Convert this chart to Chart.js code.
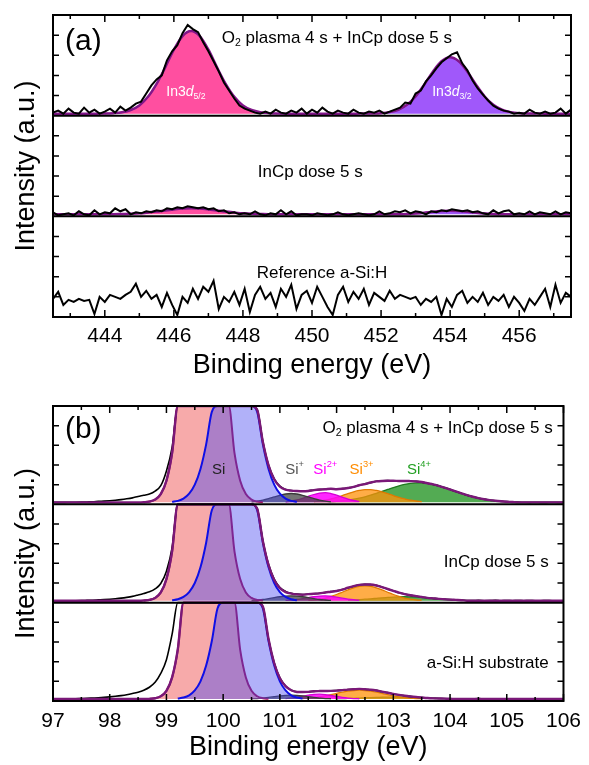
<!DOCTYPE html>
<html lang="en">
<head>
<meta charset="UTF-8">
<title>XPS In 3d and Si 2p spectra</title>
<script src="https://cdn.jsdelivr.net/npm/chart.js"></script>
<style>
body { margin: 0; background: #fff; }
.wrap { position: relative; width: 589px; height: 765px; }
canvas { position: absolute; left: 0; }
#chartA { top: 0; }
#chartB { top: 385px; }
</style>
</head>
<body>
<div class="wrap">
<canvas id="chartA" width="589" height="385"></canvas>
<canvas id="chartB" width="589" height="380"></canvas>
</div>
<script>
// ---------- panel (a): In 3d ----------
const inStart = 442.5, inStep = 0.15;      // measured points
const inFitStart = 442.5, inFitStep = 0.25; // fit curves
const inBase = 2;
const inTicks = [444, 446, 448, 450, 452, 454, 456];
const inMinor = [443, 445, 447, 449, 451, 453, 455, 457];

const inDataO2 = [3,5,2,7,3,2,8,3,6,2, 4,7,3,9,5,8,12,14,22,30, 36,40,55,64,70,82,90,86,83,73,
  64,54,44,33,25,17,10,7,5,3, 2,4,2,6,3,2,5,3,7,2, 6,3,8,4,2,5,3,2,6,3, 2,4,3,5,2,4,6,8,13,12,
  22,25,34,40,47,53,57,61,63,52, 45,35,27,21,15,10,7,5,4,2, 3,2,6,3,2,4,2,3,7,2,6];
const inDataDose = [4,1,2,3,1,5,2,1,6,2, 4,3,8,5,7,2,4,3,5,4, 6,5,8,7,9,8,10,9,8,9,
  7,8,5,6,3,4,2,3,2,5, 2,1,3,2,6,2,5,1,2,2, 1,3,2,1,2,4,2,1,2,3, 2,1,2,5,2,3,5,4,6,3,
  5,4,2,5,4,6,5,7,6,5, 6,4,5,3,2,6,3,5,6,2, 3,2,5,2,4,3,2,5,2,4,3];
const inDataRef = [18,25,12,17,15,18,16,17,3,20, 15,22,20,18,22,25,33,20,26,18, 22,10,24,12,2,20,14,28,18,30,
  25,36,8,20,15,25,12,28,5,22, 30,18,24,10,28,20,32,8,22,26, 14,30,20,10,2,22,30,15,25,18,
  28,12,24,20,16,26,18,22,20,18, 20,12,18,15,20,2,18,10,22,26, 14,20,15,24,12,20,16,22,10,20,
  14,6,18,12,20,28,10,32,14,24,20];

const inFitO2 = [2,2,2,2,2,2,
  2.1,2.5,3.4,5.6,10.2,18.7,31.6,48,65.5,79,84,79,65.5,48,31.6,18.7,10.2,5.6,3.4,2.5,2.1,
  2,2,2,2,2,2,2,2,2,
  2.1,2.2,2.5,3.5,5.9,10.8,19.1,30.8,43.7,54,58,54,43.7,30.8,19.1,10.8,5.9,3.5,2.5,2.2,2.1,
  2,2,2,2];
const inFitDose = [2,2,2,2,2,2,
  2,2.1,2.3,2.5,3,3.8,4.7,5.9,6.9,7.7,8,7.7,6.9,5.9,4.7,3.8,3,2.5,2.3,2.1,2,
  2,2,2,2,2,2,2,2,2,
  2,2,2,2.05,2.15,2.4,2.9,3.6,4.5,5.2,5.5,5.2,4.5,3.6,2.9,2.4,2.15,2.05,2,2,2,
  2,2,2,2];
const in52Start = 444.0, in32Start = 451.5;
const in52O2 = [0.1,0.5,1.4,3.6,8.2,16.7,29.6,46,63.5,77,82,77,63.5,46,29.6,16.7,8.2,3.6,1.4,0.5,0.1];
const in32O2 = [0.05,0.2,0.5,1.5,3.9,8.8,17.1,28.8,41.7,52,56,52,41.7,28.8,17.1,8.8,3.9,1.5,0.5,0.2,0.05];
const in52Dose = [0,0.1,0.3,0.5,1,1.8,2.7,3.9,4.9,5.7,6,5.7,4.9,3.9,2.7,1.8,1,0.5,0.3,0.1,0];
const in32Dose = [0,0,0,0.05,0.15,0.4,0.9,1.6,2.5,3.2,3.5,3.2,2.5,1.6,0.9,0.4,0.15,0.05,0,0,0];

// ---------- panel (b): Si 2p ----------
const siStart = 97, siStep = 0.1;
const siBase = 2;
const siTicks = [97, 98, 99, 100, 101, 102, 103, 104, 105, 106];
const siMinor = [97.5, 98.5, 99.5, 100.5, 101.5, 102.5, 103.5, 104.5, 105.5];

const siDataO2 = [2,2,2,2.1,2.1,2.2,2.4,2.6,3,3.3,3.7,4.2,4.8,5.6,6.6,8,
  9.2,10.5,13.5,19,34,58,105,180,272,364, 430,455,437,391,340,292,252,214,175,134,
  96.5,64,40,26,18.5,15,14,13.6,13.4,13.8, 14.5,15,15.4,15.7,15.5,16,16.8,17.7,19.5,20.8,
  22,23.4,23.9,24.2,23.9,24,23.7,23.5,23.4,22.6, 21.5,20.2,18.9,17,15.2,13,11.3,9.2,7.8,6.2,
  5.3,4.2,3.7,3,2.8,2.4, 2.2,2.1,2,2.1,2,2,2.1,2,2];
const siFitO2 = [2,2,2,2,2,2,2,2,2,2,2,2,2,2,2,2,
  2.2,2.8,4.8,10.4,24,52.5,103.5,179,271,363, 429,454,437,391,340,292,252,214,175,134,
  96,63.4,39.7,25.5,18,14.9,13.9,13.5,13.3,13.6, 14.5,15.1,15.3,15.8,15.4,15.8,16.6,17.8,19.4,20.6,
  22.2,23.3,23.8,24,24,23.8,23.8,23.6,23.3,22.7, 21.4,20.3,18.8,17.1,15.1,13.1,11.2,9.3,7.7,6.3,
  5.2,4.3,3.6,3.1,2.7,2.4, 2,2,2,2,2,2,2,2,2];
const siDataDose = [2,2,2,2,2,2.1,2.3,2.5,2.8,3.1,3.5,4,4.6,5.4,6.4,7.8,
  9.3,11,14,19.5,32,56,104,180,271,363, 430,455,437,391,340,292,252,214,175,134,
  96,63,39,24,15.5,11.5,9.6,8.7,8.3,8.6, 9.1,9.6,10.3,11.2,12,13.3,15,16.8,18.2,18.6,
  18.3,17.6,16,13.8,12.1,10.1,8.8,7.4,6.7,5.7, 5,4.3,4,3.4,3.2,2.7,2.6,
  2.2,2.1,2.3,2,2.1,2.4,2,2.1,2,2.2,2,2.1,2,2,2.1,2,2,2];
const siFitDose = [2,2,2,2,2,2,2,2,2,2,2,2,2,2,2,2,
  2.2,2.8,4.8,10.4,24,52.5,103.5,179,271,363, 429,454,437,391,340,292,252,214,175,134,
  95.5,62.4,38.1,23.1,14.8,10.8,9.2,8.4,8.1,8.7, 9,9.5,10.4,11.1,11.9,13.2,15.2,16.9,18.1,18.5,
  18.4,17.5,15.9,13.9,12,10.2,8.7,7.5,6.6,5.8, 4.9,4.4,3.9,3.5,3.1,2.8,2.5,
  2,2,2,2,2,2,2,2,2,2,2,2,2,2,2,2,2,2];
const siDataSub = [2,2,2.1,2.2,2.3,2.5,2.7,3,3.3,3.7,4.2,4.8,5.5,6.4,7.6,9,11,
  14,19,28,42,68,102,145,200,275,363, 429,454,437,391,340,292,252,214,175,134,
  96,63,39,23.5,15.3,11,9.4,9.1,9.4,9.8, 10.2,10.1,10.4,10.7,11,11.7,12,12.2,12,11.4,
  10.8,9.4,8.5,7.1,6.3,5.2,4.7,3.9,3.6,3, 2.8,2.5,2.5,2.2,
  2.3,2.1,2,2.2,2.4,2.1,2,2.3,2.1,2,2.2,2,2.1,2.3,2,2.1,2,2.2,2,2];
const siFitSub = [2,2,2,2,2,2,2,2,2,2,2,2,2,2,2,2,2,
  2.2,2.8,4.8,10.4,24,52.5,103.5,179,271,363, 429,454,437,391,340,292,252,214,175,134,
  96,63,38.4,23.2,15.1,10.9,9.2,9.2,9.3,9.9, 10.1,10.2,10.3,10.6,11.1,11.6,11.9,12.3,11.9,11.5,
  10.7,9.5,8.4,7.2,6.2,5.3,4.6,4,3.5,3, 2.7,2.6,2.4,2.3,
  2,2,2,2,2,2,2,2,2,2,2,2,2,2,2,2,2,2,2,2];

// fitted components (height above background), each with its first energy
const siRedStart = [98.6, 98.6, 98.7];
const siRedO2 = [0.2,0.8,2.8,8.4,22,50,100,173,260,343,393,393,343,260,173,100,50,22,8.4,2.8,0.8,0.2];
const siRedDose = [0.2,0.8,2.8,8.4,22,50,100,173,260,343,393,393,343,260,173,100,50,22,8.4,2.8,0.8,0.2];
const siRedSub = [0.2,0.8,2.8,8.4,22,50,100,173,260,343,393,393,343,260,173,100,50,22,8.4,2.8,0.8,0.2];
const siBlueStart = [99.1, 99.1, 99.2];
const siBlueO2 = [0.5,1.5,3.8,8.8,18,34,59,92,129,165,190,200,190,165,129,92,59,34,18,8.8,3.8,1.5,0.5];
const siBlueDose = [0.5,1.5,3.8,8.8,18,34,59,92,129,165,190,200,190,165,129,92,59,34,18,8.8,3.8,1.5,0.5];
const siBlueSub = [0.5,1.5,3.8,8.8,18,34,59,92,129,165,190,200,190,165,129,92,59,34,18,8.8,3.8,1.5,0.5];
const si1Start = [100.5, 100.5, 100.5];
const si1O2 = [0.6,1.2,2.2,3.7,5.5,7.2,8.5,9,8.5,7.2,5.5,3.7,2.2,1.2,0.6];
const si1Dose = [0.3,0.7,1.2,2.1,3.1,4,4.7,5,4.7,4,3.1,2.1,1.2,0.7,0.3];
const si1Sub = [0.3,0.5,1,1.6,2.4,3.2,3.8,4,3.8,3.2,2.4,1.6,1,0.5,0.3];
const si2Start = [101.1, 101.1, 101.1];
const si2O2 = [0.6,1.4,2.5,4.1,6.1,8,9.5,9.9,9,7.3,5.3,3.4,1.9,1];
const si2Dose = [0.3,0.7,1.2,2.1,3.1,4,4.7,5,4.5,3.6,2.6,1.7,1,0.5];
const si2Sub = [0.5,1.1,1.9,3,4,4.8,4.9,4.5,3.6,2.6,1.7,1,0.5,0.3];
const si3Start = [101.6, 101.5, 101.4];
const si3O2 = [0.8,1.4,2.2,3.5,5,6.9,8.9,10.7,12.1,12.9,12.9,12.1,10.7,8.9,6.9,5,3.5,2.2,1.4,0.8];
const si3Dose = [0.5,0.9,1.6,2.7,4.3,6.3,8.6,11,13.1,14.5,15,14.5,13.1,11,8.6,6.3,4.3,2.7,1.6,0.9,0.5];
const si3Sub = [0.5,0.9,1.5,2.2,3.2,4.4,5.7,7,8,8.7,9,8.7,8,7,5.7,4.4,3.2,2.2,1.5,0.9,0.5,0.3];
const si4Start = [101.9, 102.2, 102.0];
const si4O2 = [0.7,1.1,1.6,2.3,3.2,4.3,5.7,7.3,9.2,11.1,13.1,15.1,16.8,18.3,19.4,19.9,19.9,19.4,18.3,16.8,
  15.1,13.1,11.1,9.2,7.3,5.7,4.3,3.2,2.3,1.6,1.1,0.7];
const si4Dose = [0.5,0.8,1.1,1.5,1.9,2.4,2.9,3.3,3.7,3.9,4,3.9,3.7,3.3,2.9,2.4,1.9,1.5,1.1,0.8,0.5];
const si4Sub = [0.3,0.4,0.6,0.7,1,1.2,1.5,1.7,1.8,2,2,2,1.8,1.7,1.5,1.2,1,0.7,0.6,0.4,0.3];

// ---------- helpers ----------
const FONT = "'Liberation Sans', Arial, Helvetica, sans-serif";
Chart.defaults.font.family = FONT;
Chart.defaults.color = '#000';
const subTicks = [20, 40, 60, 80];

// each sub-panel spans 100 units; values are cut at the top of their own sub-panel
function pts(x0, dx, ys, offset, lift) {
  return ys.map((v, i) => ({ x: +(x0 + dx * i).toFixed(3), y: offset + Math.min(v + lift, 100) }));
}
function trace(data, color, width, smoothLine) {
  return { data, borderColor: color, borderWidth: width, pointRadius: 0, fill: false,
    tension: 0, cubicInterpolationMode: smoothLine ? 'monotone' : 'default' };
}
function band(data, fillColor, lineColor, floor, width) {
  return { data, borderColor: lineColor, borderWidth: width || 1.3, backgroundColor: fillColor, pointRadius: 0,
    fill: { value: floor }, cubicInterpolationMode: 'monotone' };
}

function drawRich(ctx, px, py, lab) {
  const size = lab.size;
  const parts = lab.segs.map(s => {
    const small = s.sub || s.sup;
    const font = (s.italic ? 'italic ' : '') + (small ? size * 0.62 : size) + 'px ' + FONT;
    ctx.font = font;
    return { t: s.t, font, w: ctx.measureText(s.t).width,
      dy: s.sub ? size * 0.3 : (s.sup ? -size * 0.38 : 0) };
  });
  const total = parts.reduce((a, p) => a + p.w, 0);
  let cx = lab.align === 'left' ? px : (lab.align === 'right' ? px - total : px - total / 2);
  ctx.fillStyle = lab.color || '#000';
  ctx.textAlign = 'left';
  ctx.textBaseline = 'middle';
  parts.forEach(p => { ctx.font = p.font; ctx.fillText(p.t, cx, py + p.dy); cx += p.w; });
}

// frame, sub-panel dividers, inward ticks and the text labels
function decor(major, minor, labels) {
  return {
    id: 'decor',
    afterDatasetsDraw(chart) {
      const { ctx, chartArea: a, scales: { x, y } } = chart;
      ctx.save();
      ctx.strokeStyle = '#000';
      ctx.lineWidth = 1.5;
      const xTick = (v, len) => {
        const px = x.getPixelForValue(v);
        ctx.beginPath();
        ctx.moveTo(px, a.bottom); ctx.lineTo(px, a.bottom - len);
        ctx.moveTo(px, a.top); ctx.lineTo(px, a.top + len);
        ctx.stroke();
      };
      major.forEach(v => xTick(v, 7));
      minor.forEach(v => xTick(v, 4));
      [0, 100, 200].forEach(off => subTicks.forEach(k => {
        const py = y.getPixelForValue(off + k);
        ctx.beginPath();
        ctx.moveTo(a.left, py); ctx.lineTo(a.left + 6, py);
        ctx.moveTo(a.right, py); ctx.lineTo(a.right - 6, py);
        ctx.stroke();
      }));
      ctx.lineWidth = 2;
      [100, 200].forEach(v => {
        const py = y.getPixelForValue(v);
        ctx.beginPath(); ctx.moveTo(a.left, py); ctx.lineTo(a.right, py); ctx.stroke();
      });
      ctx.strokeRect(a.left, a.top, a.right - a.left, a.bottom - a.top);
      labels.forEach(l => drawRich(ctx, x.getPixelForValue(l.x), y.getPixelForValue(l.y), l));
      ctx.restore();
    }
  };
}

function options(xMin, xMax, ticks, padTop, axisH, tickPad, titlePad) {
  return {
    responsive: false,
    animation: false,
    events: [],
    layout: { padding: { top: padTop, right: 18, left: 0, bottom: 0 } },
    plugins: { legend: { display: false }, tooltip: { enabled: false } },
    scales: {
      x: {
        type: 'linear', min: xMin, max: xMax,
        afterBuildTicks: s => { s.ticks = ticks.map(v => ({ value: v })); },
        ticks: { font: { size: 21 }, color: '#000', padding: tickPad, maxRotation: 0, autoSkip: false },
        grid: { display: false, drawTicks: false },
        border: { display: false },
        title: { display: true, text: 'Binding energy (eV)', font: { size: 27 }, color: '#000',
          padding: { top: 0, bottom: titlePad } },
        afterFit: s => { s.height = axisH; }
      },
      y: {
        type: 'linear', min: 0, max: 300,
        ticks: { display: false },
        grid: { display: false, drawTicks: false },
        border: { display: false },
        title: { display: true, text: 'Intensity (a.u.)', font: { size: 27 }, color: '#000',
          padding: { top: 10, bottom: 0 } },
        afterFit: s => { s.width = 53; }
      }
    }
  };
}

// ---------- chart (a) ----------
const pink = 'rgba(255,60,150,0.9)', pinkLine = '#c81e78';
const violet = 'rgba(150,70,250,0.9)', violetLine = '#7428c8';
const inFitColor = '#82168a';

const aDatasets = [
  trace(pts(inStart, inStep, inDataO2, 200, 0), '#000', 2),
  trace(pts(inStart, inStep, inDataDose, 100, 0), '#000', 2),
  trace(pts(inStart, inStep, inDataRef, 0, 0), '#000', 2),
  trace(pts(inFitStart, inFitStep, inFitO2, 200, 0), inFitColor, 2.5, true),
  trace(pts(inFitStart, inFitStep, inFitDose, 100, 0), inFitColor, 2.5, true),
  band(pts(in52Start, inFitStep, in52O2, 200, inBase), pink, pinkLine, 200 + inBase),
  band(pts(in32Start, inFitStep, in32O2, 200, inBase), violet, violetLine, 200 + inBase),
  band(pts(in52Start, inFitStep, in52Dose, 100, inBase), pink, pinkLine, 100 + inBase),
  band(pts(in32Start, inFitStep, in32Dose, 100, inBase), violet, violetLine, 100 + inBase)
];

const aLabels = [
  { x: 442.85, y: 273, size: 30, align: 'left', segs: [{ t: '(a)' }] },
  { x: 450.72, y: 277, size: 17, segs: [{ t: 'O' }, { t: '2', sub: true }, { t: ' plasma 4 s + InCp dose 5 s' }] },
  { x: 446.35, y: 223, size: 14, color: '#fff', segs: [{ t: 'In3' }, { t: 'd', italic: true }, { t: '5/2', sub: true }] },
  { x: 454.05, y: 223, size: 14, color: '#fff', segs: [{ t: 'In3' }, { t: 'd', italic: true }, { t: '3/2', sub: true }] },
  { x: 449.95, y: 143.6, size: 17, segs: [{ t: 'InCp dose 5 s' }] },
  { x: 450.29, y: 43.7, size: 17, segs: [{ t: 'Reference a-Si:H' }] }
];

new Chart(document.getElementById('chartA'), {
  type: 'line',
  data: { datasets: aDatasets },
  options: options(442.5, 457.5, inTicks, 15, 68, 7, 3),
  plugins: [decor(inTicks, inMinor, aLabels)]
});

// ---------- chart (b) ----------
const siPanels = [
  { off: 200, data: siDataO2, fit: siFitO2, red: siRedO2, blue: siBlueO2, s1: si1O2, s2: si2O2, s3: si3O2, s4: si4O2 },
  { off: 100, data: siDataDose, fit: siFitDose, red: siRedDose, blue: siBlueDose, s1: si1Dose, s2: si2Dose, s3: si3Dose, s4: si4Dose },
  { off: 0, data: siDataSub, fit: siFitSub, red: siRedSub, blue: siBlueSub, s1: si1Sub, s2: si2Sub, s3: si3Sub, s4: si4Sub }
];

// first dataset is drawn last (on top): fit envelope over the measured line
const bDatasets = [];
siPanels.forEach(p => bDatasets.push(trace(pts(siStart, siStep, p.fit, p.off, 0), '#7a1878', 2.4, true)));
siPanels.forEach(p => bDatasets.push(trace(pts(siStart, siStep, p.data, p.off, 0), '#000', 1.6, true)));
siPanels.forEach((p, i) => bDatasets.push(band(pts(siBlueStart[i], siStep, p.blue, p.off, siBase),
  'rgba(70,70,240,0.42)', '#0f0fe6', p.off + siBase, 2)));
siPanels.forEach((p, i) => bDatasets.push(band(pts(siRedStart[i], siStep, p.red, p.off, siBase),
  'rgba(238,70,70,0.46)', '#a8104e', p.off + siBase, 2)));
siPanels.forEach((p, i) => bDatasets.push(band(pts(si1Start[i], siStep, p.s1, p.off, siBase),
  'rgba(70,70,70,0.75)', '#3a3a3a', p.off + siBase)));
siPanels.forEach((p, i) => bDatasets.push(band(pts(si2Start[i], siStep, p.s2, p.off, siBase),
  'rgba(255,0,255,0.85)', '#d400d4', p.off + siBase)));
siPanels.forEach((p, i) => bDatasets.push(band(pts(si3Start[i], siStep, p.s3, p.off, siBase),
  'rgba(255,145,10,0.75)', '#e07a00', p.off + siBase)));
siPanels.forEach((p, i) => bDatasets.push(band(pts(si4Start[i], siStep, p.s4, p.off, siBase),
  'rgba(40,150,40,0.8)', '#1f7a1f', p.off + siBase)));

const bLabels = [
  { x: 97.21, y: 275.6, size: 30, align: 'left', segs: [{ t: '(b)' }] },
  { x: 105.81, y: 277.5, size: 17, align: 'right', segs: [{ t: 'O' }, { t: '2', sub: true }, { t: ' plasma 4 s + InCp dose 5 s' }] },
  { x: 99.92, y: 234.6, size: 15, color: '#222', segs: [{ t: 'Si' }] },
  { x: 101.26, y: 234.6, size: 15, color: '#555', segs: [{ t: 'Si' }, { t: '+', sup: true }] },
  { x: 101.8, y: 234.6, size: 15, color: '#ff00ff', segs: [{ t: 'Si' }, { t: '2+', sup: true }] },
  { x: 102.44, y: 234.6, size: 15, color: '#ff8c00', segs: [{ t: 'Si' }, { t: '3+', sup: true }] },
  { x: 103.45, y: 234.6, size: 15, color: '#22a022', segs: [{ t: 'Si' }, { t: '4+', sup: true }] },
  { x: 105.74, y: 140.7, size: 17, align: 'right', segs: [{ t: 'InCp dose 5 s' }] },
  { x: 105.74, y: 38.7, size: 17, align: 'right', segs: [{ t: 'a-Si:H substrate' }] }
];

new Chart(document.getElementById('chartB'), {
  type: 'line',
  data: { datasets: bDatasets },
  options: options(97, 106, siTicks, 21, 64, 8, 1),
  plugins: [decor(siTicks, siMinor, bLabels)]
});
</script>
</body>
</html>
